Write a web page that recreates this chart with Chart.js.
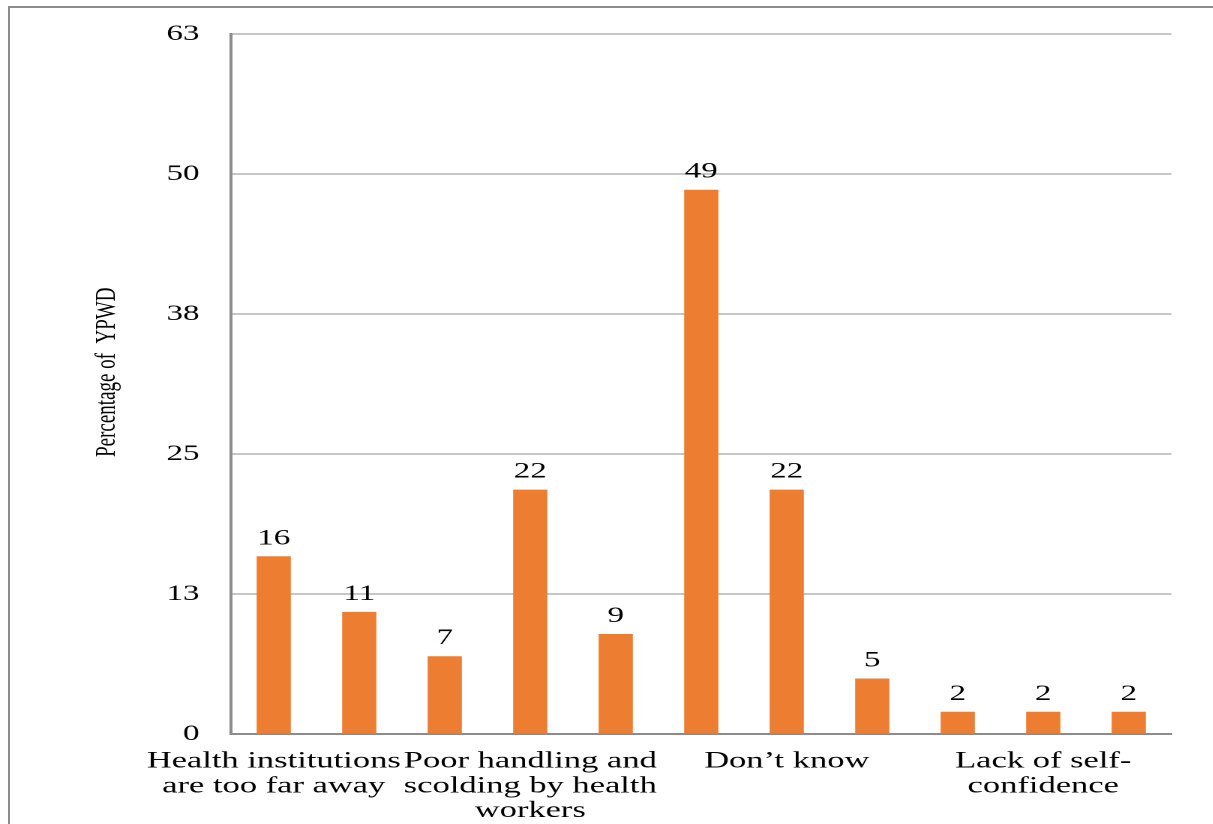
<!DOCTYPE html>
<html>
<head>
<meta charset="utf-8">
<script src="https://cdn.jsdelivr.net/npm/chart.js@4/dist/chart.umd.min.js"></script>
<style>
  html, body { margin: 0; padding: 0; background: #fff; overflow: hidden; width: 1213px; height: 824px; }
  #frame { position: absolute; left: 8px; top: 6px; width: 1300px; height: 900px; border: 2px solid #8c8c8c; box-sizing: border-box; }
  /* the chart is laid out narrow, then widened 1.5x horizontally */
  #wrap { position: absolute; left: 0; top: 0; width: 809px; height: 824px; transform: scaleX(1.5); transform-origin: 0 0; }
</style>
</head>
<body>
<div id="frame"></div>
<div id="wrap"><canvas id="c"></canvas></div>
<script>
// Reasons given, one bar each (only some carry an axis label)
const categories = [
  ['Health institutions', 'are too far away'],
  '',
  '',
  ['Poor handling and', 'scolding by health', 'workers'],
  '',
  '',
  'Don\u2019t know',
  '',
  '',
  ['Lack of self-', 'confidence'],
  ''
];
// Percentage of YPWD for each reason
const percentages = [16, 11, 7, 22, 9, 49, 22, 5, 2, 2, 2];
// Value axis range and step
const yMin = 0;
const yMax = 63;
const yStep = 12.6;

const serif = '"Liberation Serif", "Times New Roman", serif';
const textColor = '#000';
const lineColor = '#8c8c8c';

const valueLabels = {
  id: 'valueLabels',
  afterDatasetsDraw(chart) {
    const ctx = chart.ctx;
    const meta = chart.getDatasetMeta(0);
    const values = chart.data.datasets[0].data;
    ctx.save();
    ctx.font = '22px ' + serif;
    ctx.fillStyle = textColor;
    ctx.textAlign = 'center';
    ctx.textBaseline = 'alphabetic';
    meta.data.forEach((bar, i) => {
      ctx.fillText(String(values[i]), bar.x, bar.y - 12);
    });
    ctx.restore();
  }
};

new Chart(document.getElementById('c'), {
  type: 'bar',
  data: {
    labels: categories,
    datasets: [{
      data: percentages,
      backgroundColor: '#ED7D31',
      borderWidth: 0,
      categoryPercentage: 1.0,
      barPercentage: 0.4
    }]
  },
  options: {
    responsive: true,
    maintainAspectRatio: false,
    devicePixelRatio: 2,
    animation: false,
    layout: { padding: { top: 33, right: 28, left: 0, bottom: 0 } },
    plugins: {
      legend: { display: false },
      tooltip: { enabled: false }
    },
    scales: {
      x: {
        offset: true,
        grid: { display: false, drawTicks: false },
        border: { display: true, color: lineColor, width: 2 },
        ticks: {
          autoSkip: false,
          maxRotation: 0,
          minRotation: 0,
          padding: 15,
          color: textColor,
          font: { family: serif, size: 23, lineHeight: 1.08 }
        },
        afterFit(scale) { scale.height = 90; }
      },
      y: {
        min: yMin,
        max: yMax,
        grid: { color: lineColor, lineWidth: 1, drawTicks: false },
        border: { display: true, color: lineColor, width: 2 },
        ticks: {
          stepSize: yStep,
          padding: 21,
          color: textColor,
          font: { family: serif, size: 22 },
          callback: v => String(Math.round(v))
        },
        title: {
          display: true,
          text: '     Percentage of  YPWD',
          color: textColor,
          font: { family: serif, size: 19, lineHeight: 1.2 },
          padding: { top: 60, bottom: 0 }
        },
        afterFit(scale) { scale.width = 154; }
      }
    }
  },
  plugins: [valueLabels]
});
</script>
</body>
</html>
